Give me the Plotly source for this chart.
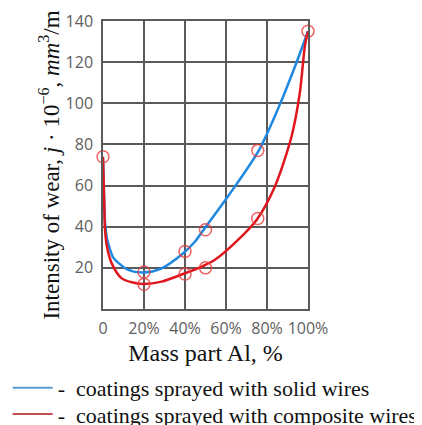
import plotly.graph_objects as go

# values
mass_al_solid = [0, 0.6, 1, 2, 3.4, 5, 7.5, 12.3, 19.7, 28.6, 39, 44.9, 49.8, 61, 75.8, 86.3, 93.7, 100]
wear_solid = [73, 52, 42, 34, 29, 25, 22.4, 19, 17.7, 19.8, 27, 32.8, 39.5, 54.8, 76.7, 99.5, 118, 135]

mass_al_comp = [0, 0.6, 1, 2, 4.2, 9, 14, 19.7, 28.6, 39, 49, 54.6, 66, 75, 83.9, 92, 96, 98.5, 100]
wear_comp = [74, 52, 38.5, 30, 22.3, 15, 13, 12.2, 13.3, 17, 21, 23.9, 33.7, 43.4, 59.7, 84, 105, 128, 135]

meas_x = [0, 20, 20, 40, 40, 50, 50, 75.5, 75.5, 100]
meas_y = [74, 18, 12, 28, 17, 38.5, 20, 77, 44, 135]

x_ticks = [0, 20, 40, 60, 80, 100]
x_ticktext = ["0", "20%", "40%", "60%", "80%", "100%"]
y_ticks = [20, 40, 60, 80, 100, 120, 140]

BLUE = "#1f88e0"
RED = "#e0161e"
GRID = "#5a5a5a"
SERIF = "Liberation Serif, Times New Roman, serif"

traces = []
traces.append(go.Scatter(x=mass_al_solid, y=wear_solid, mode="lines",
                         line=dict(color=BLUE, width=2.5, shape="spline", smoothing=0.8),
                         showlegend=False, hoverinfo="skip"))
traces.append(go.Scatter(x=mass_al_comp, y=wear_comp, mode="lines",
                         line=dict(color=RED, width=2.5, shape="spline", smoothing=0.8),
                         showlegend=False, hoverinfo="skip"))
traces.append(go.Scatter(x=meas_x, y=meas_y, mode="markers", cliponaxis=False,
                         marker=dict(symbol="circle-open", size=12,
                                     color="rgba(232,60,60,0.8)", line=dict(width=1.5)),
                         showlegend=False))

# legend-only entries (lighter colours like the source figure), one legend each
legend = [("-  coatings sprayed with solid wires", "#5b9bd5", "legend"),
          ("-  coatings sprayed with composite wires", "#c0504d", "legend2")]
for name, color, lg in legend:
    traces.append(go.Scatter(x=[None], y=[None], mode="lines", name=name, legend=lg,
                             line=dict(color=color, width=2)))

legend_style = dict(x=-0.465, xanchor="left", yanchor="middle", itemwidth=40,
                    font=dict(family=SERIF, size=22, color="#111"),
                    bgcolor="rgba(0,0,0,0)")

fig = go.Figure(data=traces)
fig.update_layout(
    width=440, height=417,
    margin=dict(l=95, r=140, t=13, b=116, autoexpand=False),
    plot_bgcolor="white", paper_bgcolor="white",
    legend=dict(y=-0.274, **legend_style),
    legend2=dict(y=-0.365, **legend_style),
)
fig.update_xaxes(range=[0, 100], tickvals=x_ticks, ticktext=x_ticktext,
                 showgrid=True, gridcolor=GRID, gridwidth=1.5,
                 showline=True, linecolor=GRID, linewidth=1.5, mirror=True,
                 zeroline=False, ticks="", ticklabelstandoff=4, automargin=False,
                 tickfont=dict(family="Open Sans", size=16, color="#606060"),
                 title=dict(text="Mass part Al, %", standoff=6,
                            font=dict(family=SERIF, size=24, color="#111")))
fig.update_yaxes(range=[0, 140], tickvals=y_ticks,
                 showgrid=True, gridcolor=GRID, gridwidth=1.5,
                 showline=True, linecolor=GRID, linewidth=1.5, mirror=True,
                 zeroline=False, ticks="", ticklabelstandoff=5, automargin=False,
                 tickfont=dict(family="Open Sans", size=16, color="#606060"),
                 title=dict(text="Intensity of wear, <i>j</i> · 10<sup>−6</sup>, <i>mm</i><sup>3</sup>/m",
                            standoff=0,
                            font=dict(family=SERIF, size=23, color="#111")))

fig.write_html("out.html")
